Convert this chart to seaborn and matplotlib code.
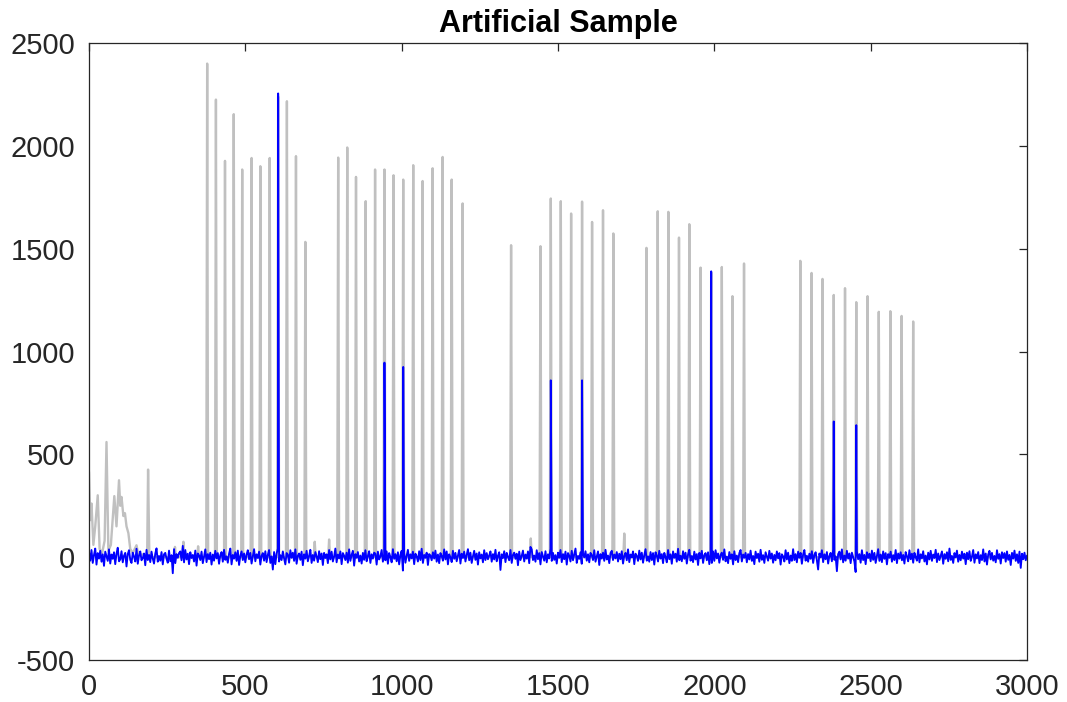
import numpy as np
import pandas as pd
import matplotlib
matplotlib.use("Agg")
import matplotlib.pyplot as plt
import seaborn as sns

# Reference spectrum (gray): peak positions and heights
gray_peak_x = [378, 406, 435, 463, 490, 520, 548, 578, 605, 633, 662, 692,
               797, 826, 854, 885, 915, 945, 974, 1005, 1037, 1067, 1099, 1131, 1160, 1195,
               1350,
               1444, 1477, 1509, 1542, 1577, 1609, 1644, 1677,
               1783, 1819, 1853, 1887, 1920, 1956, 1990, 2024, 2058, 2095,
               2275, 2311, 2346, 2382, 2418, 2454, 2490, 2526, 2563, 2599, 2636]
gray_peak_y = [2400, 2225, 1927, 2154, 1885, 1941, 1901, 1941, 2240, 2217, 1950, 1533,
               1943, 1992, 1849, 1731, 1885, 1885, 1857, 1836, 1906, 1829, 1891, 1946, 1836, 1720,
               1517,
               1512, 1744, 1731, 1671, 1729, 1630, 1687, 1574,
               1504, 1682, 1679, 1554, 1619, 1408, 1385, 1411, 1269, 1428,
               1441, 1382, 1353, 1275, 1308, 1240, 1269, 1193, 1196, 1173, 1146]

# Irregular low-mass region at the start of the reference spectrum
gray_lead_x = [0, 4, 8, 14, 20, 28, 34, 42, 50, 56, 62, 70, 81, 88, 96, 100,
               104, 110, 115, 120, 126, 132, 140, 152, 158, 175, 186, 189, 193, 200]
gray_lead_y = [415, 180, 261, 60, 150, 301, 40, 20, 80, 560, 30, 60, 297, 150, 374, 250,
               293, 200, 214, 150, 117, 40, 20, 58, 10, 15, 5, 426, 10, 0]

# Small side bumps of the reference spectrum
bump_x = [275, 302, 349, 722, 768, 1413, 1712]
bump_y = [50, 75, 53, 75, 86, 91, 115]

# Sample spectrum (blue): matched peaks
blue_peak_x = [605, 945, 1005, 1477, 1577, 1990, 2382, 2454]
blue_peak_y = [2255, 946, 925, 860, 860, 1390, 660, 642]

# Sample baseline noise, one value every 4 units from 0 to 3000 (25 values per 100 units)
blue_noise = [
    25, -17, 35, -28, 11, 42, -36, 20, -7, 31, -22, 14, -42, 27, 4, -18, 38, -31, 13, -8, 24, -34, 17, 46, -20,
    -11, 29, -25, 7, 21, -45, 15, 34, -13, -28, 22, 3, -21, 41, -32, 8, 28, -15, -4, 18, -39, 36, -14, 11, -24,
    27, -7, -31, 17, 43, -22, 6, -17, 25, -35, 14, 21, -8, -27, 32, -20, 10, -78, 39, -29, 15, -3, 20, 28, -15,
    55, -25, 35, -11, 17, -34, 24, -4, 11, -21, 32, -41, 18, 8, -14, 27, -29, 3, 38, -24, 15, -10, 22, -36, 13,
    -17, 31, -6, 20, -32, 10, 25, -22, 36, -13, 4, -27, 17, 42, -35, 11, -7, 24, -18, 32, -38, 6, 28, -14, 18,
    -25, 13, 34, -10, 21, -31, 3, 39, -20, 14, -4, 27, -36, 7, 20, -17, 29, -24, 11, 35, -28, 4, -60, 25, -34,
    17, 41, -21, 10, -14, 28, -6, -35, 20, 13, -27, 34, -3, 22, -18, 38, -32, 7, 18, -13, 27, -39, 14, -7, 31,
    -20, 6, 36, -28, 11, -17, 25, 4, -24, 29, -10, 18, -38, 21, -4, 14, -29, 35, -11, 27, -21, 3, 42, -25, 13,
    -6, 28, -34, 20, 7, -14, 22, -27, 38, -18, 11, 31, -41, 15, -3, 25, -21, 8, -31, 21, -13, 34, -20, 6, 29,
    -28, 14, -7, 22, 17, -36, 27, -11, 4, 35, -22, 13, -15, 28, -32, 20, 1, -25, 39, -8, 15, -20, 24, -35, 11,
    31, -65, 21, -27, 7, 36, -18, 14, -6, 27, -34, 17, 4, -21, 29, -14, 41, -28, 11, -3, 22, -38, 15, 8, -15,
    24, -7, 32, -22, 13, -29, 20, 6, -17, 38, -11, 28, -35, 14, 0, -24, 31, -8, 21, -20, 7, 35, -31, 17, -4,
    27, -21, 11, 39, -15, 22, -28, 4, 31, -13, 18, -36, 24, -6, 13, -25, 34, -14, 20, -10, 8, 28, -22, 15, -11,
    36, -20, 7, 24, -62, 14, -4, 29, -24, 21, 1, -15, 35, -28, 11, 22, -8, 17, -39, 27, -14, 6, 32, -21, 13,
    -7, 28, -29, 50, 38, -14, 8, -22, 34, -10, 20, -35, 25, 4, -17, 29, -25, 14, -6, 41, -18, 21, -13, 10, -31,
    22, -3, 35, -24, 15, -10, 27, -36, 20, 7, -21, 31, -15, 13, 42, -28, 6, -8, 24, -32, 17, -1, 29, -17, 14,
    -25, 21, 10, -14, 34, -22, 4, 28, -38, 15, -7, 22, -18, 36, -11, 8, -29, 20, 31, -14, 13, -6, 25, -21, 17,
    -10, 29, -31, 7, 21, -15, 38, -24, 13, -1, 28, -34, 17, 6, -18, 32, -11, 22, -27, 10, 39, -17, 4, -22, 25,
    -14, 20, -36, 24, 8, -21, 31, -7, 15, -29, 21, 1, -25, 35, -10, 14, -32, 28, -3, 17, -22, 41, -15, 7, -20,
    29, -8, 22, -31, 13, 36, -17, 6, -24, 27, -11, 15, -38, 21, -6, 31, -28, 10, 20, -15, 24, -34, 14, -28, 28,
    -18, 34, -6, 18, -27, 11, 22, -13, 38, -20, 3, -29, 25, -8, 14, -35, 29, -14, 8, -24, 20, 35, -21, 13, -3,
    21, -25, 15, -11, 32, -18, 6, -34, 27, -4, 17, -22, 36, -13, 10, -28, 24, 3, -17, 31, -7, 18, -27, 11, -15,
    28, -6, 20, -36, 14, 4, -21, 34, -11, 22, -29, 8, -18, 39, -14, 15, -25, 27, -3, 21, -32, 13, 35, -17, 7,
    -22, 17, -8, 29, -28, 11, 24, -15, -60, 18, -1, 34, -24, 14, -10, 25, -31, 6, 21, -20, 36, -13, 4, -68, 15,
    27, -11, 38, -25, 8, -17, 31, -7, 18, -29, 22, 1, -21, -72, 28, -10, 15, -27, 34, -14, 11, -34, 24, -4, 17,
    -20, 32, -13, 21, -28, 7, 39, -18, 13, -24, 28, -8, 20, -35, 15, -3, 27, -22, 10, -14, 35, -29, 18, -7, 24,
    -15, 11, -31, 25, 4, -20, 34, -10, 17, -27, 21, 0, -17, 38, -25, 14, -6, 29, -21, 8, -35, 22, -11, 31, -18,
    13, -4, 36, -24, 18, -14, 7, 28, -32, 15, -8, 24, -20, 42, -13, 6, -28, 20, -1, 32, -22, 11, -15, 27, -7,
    17, -34, 22, -10, 29, -18, 3, 35, -27, 14, -6, 25, -29, 10, -14, 38, -21, 18, -36, 13, 31, -11, 21, -17, 6,
    -25, 34, -8, 15, -31, 24, -4, 20, -22, 28, -13, 11, -38, 21, -7, 32, -18, 14, -28, 27, -52, 17, -10, 22, -15,
    8,
]

x_ticks = [0, 500, 1000, 1500, 2000, 2500, 3000]
y_ticks = [-500, 0, 500, 1000, 1500, 2000, 2500]
title_text = "Artificial Sample"


def spike_trace(lead_x, lead_y, px, py, half_width, end_x):
    """Baseline trace with narrow triangular spikes at the given positions."""
    xs, ys = list(lead_x), list(lead_y)
    for p, h in zip(px, py):
        xs += [p - half_width, p, p + half_width]
        ys += [0, h, 0]
    xs.append(end_x)
    ys.append(0)
    return pd.DataFrame({"x": xs, "y": ys}).sort_values("x", kind="stable")


gray_df = spike_trace(gray_lead_x, gray_lead_y,
                      gray_peak_x + bump_x, gray_peak_y + bump_y, 3, 3000)

grid_x = list(range(0, 3001, 4))
blue_pts = {x: y for x, y in zip(grid_x, blue_noise)}
for p, h in zip(blue_peak_x, blue_peak_y):
    blue_pts[p] = h
blue_df = pd.DataFrame(sorted(blue_pts.items()), columns=["x", "y"])

sns.set_theme(style="white")
plt.rcParams["font.family"] = ["Liberation Sans", "DejaVu Sans"]
plt.rcParams["axes.unicode_minus"] = False

fig = plt.figure(figsize=(10.67, 7.02), dpi=100)
ax = fig.add_axes([0.0834, 0.0598, 0.8791, 0.8789])

sns.lineplot(data=gray_df, x="x", y="y", ax=ax, color="#c0c0c0",
             linewidth=1.7, estimator=None, sort=False)
sns.lineplot(data=blue_df, x="x", y="y", ax=ax, color="#0000ff",
             linewidth=1.35, estimator=None, sort=False)

ax.set_xlim(0, 3000)
ax.set_ylim(-500, 2500)
ax.set_xticks(x_ticks)
ax.set_yticks(y_ticks)
ax.set_xticklabels([str(v) for v in x_ticks])
ax.set_yticklabels([str(v) for v in y_ticks])
ax.set_xlabel("")
ax.set_ylabel("")
ax.tick_params(axis="both", direction="in", length=6, width=0.9,
               top=True, right=True, labelsize=21, colors="#262626")
ax.tick_params(axis="y", pad=10)
ax.tick_params(axis="x", pad=9)
for side in ax.spines.values():
    side.set_color("#262626")
    side.set_linewidth(0.9)
ax.set_title(title_text, fontsize=22, fontweight="bold", color="black", pad=8)

fig.savefig("out.png", dpi=100, facecolor="white")
